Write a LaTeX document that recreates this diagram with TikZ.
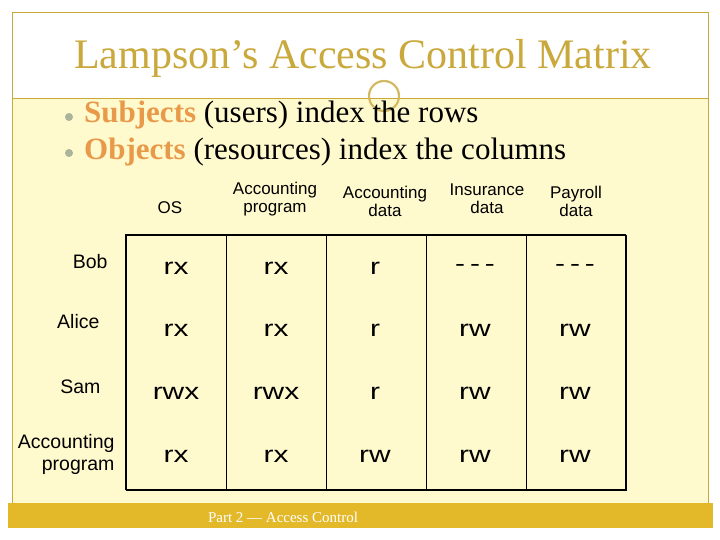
\documentclass[tikz,border=0pt]{standalone}
\usepackage{fontspec}
\setmainfont{Liberation Serif}
\newfontfamily\arial{Liberation Sans}
\definecolor{gold}{HTML}{C9A83C}
\definecolor{cream}{HTML}{FFFACD}
\definecolor{barc}{HTML}{E3B92A}
\definecolor{orng}{HTML}{E89A4A}
\definecolor{bul}{HTML}{A9B49A}
\begin{document}
\begin{tikzpicture}[x=1pt,y=-1pt,
  cell/.style={font=\arial\fontsize{23}{23}\selectfont,xscale=1.3,transform shape},
  hdr/.style={font=\arial\fontsize{17}{18}\selectfont,align=center},
  rowl/.style={font=\arial\fontsize{19.5}{22}\selectfont,align=right,anchor=east},
  bline/.style={line width=0.6pt}]
\useasboundingbox (0,0) rectangle (720,540);
\fill[white] (0,0) rectangle (720,540);
\fill[cream] (12,98) rectangle (708,503);
\draw[gold,line width=0.8pt] (12,12) -- (708,12) -- (708,503);
\draw[gold,line width=0.8pt] (12,12) -- (12,503);
\draw[gold,line width=0.8pt] (12,98) -- (708,98);
\fill[barc] (8,503) rectangle (713,528);
\draw[gold!80!white,line width=2.2pt] (384,96) circle (15);
\node[gold,font=\fontsize{42}{42}\selectfont] (title) at (363,58) {Lampson’s Access Control Matrix};
\fill[bul] (69,117) circle (4);
\fill[bul] (69,153) circle (4);
\node[anchor=west,font=\fontsize{31}{31}\selectfont,inner sep=0pt] (b1) at (84,115) {\textcolor{orng}{\textbf{Subjects}} (users) index the rows};
\node[anchor=west,font=\fontsize{31}{31}\selectfont,inner sep=0pt] (b2) at (84,152) {\textcolor{orng}{\textbf{Objects}} (resources) index the columns};
% header
\node[hdr] (h1) at (170,208) {OS};
\node[hdr] (h2) at (275,199) {Accounting\\program};
\node[hdr] (h3) at (385,201) {Accounting\\data};
\node[hdr] (h4) at (487,199) {Insurance\\data};
\node[hdr] (h5) at (576,201) {Payroll\\data};
\node[rowl] (r1) at (111,262) {Bob};
\node[rowl] (r2) at (103,322) {Alice};
\node[rowl] (r3) at (104,387) {Sam};
\node[rowl] (r4) at (118,454) {Accounting\\program};
% grid
\draw[line width=1.6pt] (126,490) -- (126,235) -- (626,235);
\draw[line width=1.6pt] (126,490) -- (626,490) -- (626,235);
\foreach \x in {226,326,426,526} \draw[bline] (\x,235) -- (\x,490);
\foreach \r/\y/\a/\b/\c/\d/\e in {1/268/rx/rx/r/{-\,-\,-}/{-\,-\,-},2/330/rx/rx/r/rw/rw,3/393/rwx/rwx/r/rw/rw,4/456/rx/rx/rw/rw/rw}{
  \node[cell] (c\r a) at (176,\y) {\a};
  \node[cell] (c\r b) at (276,\y) {\b};
  \node[cell] (c\r c) at (375,\y) {\c};
  \node[cell] (c\r d) at (475,\y) {\d};
  \node[cell] (c\r e) at (575,\y) {\e};
}
\node[white,font=\fontsize{15}{15}\selectfont] (foot) at (283,517) {Part 2 — Access Control};
\end{tikzpicture}
\end{document}
